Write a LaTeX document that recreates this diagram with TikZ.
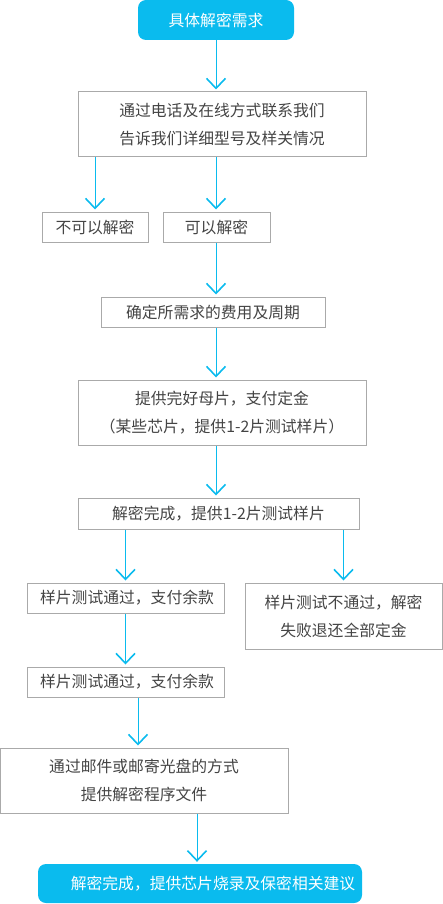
\documentclass[tikz,border=0pt]{standalone}
\usepackage{fontspec}
\setmainfont{Noto Sans CJK SC}
\usetikzlibrary{arrows.meta}
\definecolor{cyanb}{HTML}{0ABBEE}
\definecolor{boxline}{HTML}{AAAAAA}
\definecolor{txt}{HTML}{444444}
\tikzset{
  x=1pt,y=-1pt,
  box/.style={draw=boxline,line width=1pt,text=txt,font=\fontsize{15.8}{28}\selectfont,align=center,inner sep=0pt},
  bluebox/.style={fill=cyanb,draw=none,rounded corners=8pt,text=white,font=\fontsize{15.8}{28}\selectfont,inner sep=0pt},
  arr/.style={draw=cyanb,line width=1pt,-{Straight Barb[length=10pt,width=19pt,line width=1.6pt]},shorten >=2pt}
}
\begin{document}
\begin{tikzpicture}
\useasboundingbox (0,0) rectangle (443,904);
\node[bluebox,minimum width=156,minimum height=40] (b1) at (216,20) {具体解密需求};
\node[box,minimum width=288,minimum height=65] (b2) at (222,124.5) {通过电话及在线方式联系我们\\告诉我们详细型号及样关情况};
\node[box,minimum width=106,minimum height=30] (b3a) at (95,227) {不可以解密};
\node[box,minimum width=107,minimum height=30] (b3b) at (216.5,227) {可以解密};
\node[box,minimum width=224,minimum height=30] (b4) at (213,312) {确定所需求的费用及周期};
\node[box,minimum width=288,minimum height=65] (b5) at (222,412.5) {提供完好母片，支付定金\\（某些芯片，提供1-2片测试样片）};
\node[box,minimum width=281,minimum height=31] (b6) at (218.5,513.5) {解密完成，提供1-2片测试样片};
\node[box,minimum width=197,minimum height=30] (b7a) at (125.5,598) {\hspace{3pt}样片测试通过，支付余款};
\node[box,minimum width=197,minimum height=66] (b7b) at (343.5,616) {样片测试不通过，解密\\失败退还全部定金};
\node[box,minimum width=197,minimum height=30] (b8) at (125.5,682) {\hspace{3pt}样片测试通过，支付余款};
\node[box,minimum width=288,minimum height=65] (b9) at (144,780.5) {通过邮件或邮寄光盘的方式\\提供解密程序文件};
\node[bluebox,minimum width=324,minimum height=39] (b10) at (200,883.5) {\hspace{26pt}解密完成，提供芯片烧录及保密相关建议};
\draw[arr] (b1.south) -- (b1.south |- b2.north);
\draw[arr] (b2.south -| b3a) -- (b3a.north);
\draw[arr] (b2.south -| b1.south) -- (b1.south |- b3b.north);
\draw[arr] (b1.south |- b3b.south) -- (b1.south |- b4.north);
\draw[arr] (b1.south |- b4.south) -- (b1.south |- b5.north);
\draw[arr] (b1.south |- b5.south) -- (b1.south |- b6.north);
\draw[arr] (b6.south -| b7a) -- (b7a.north);
\draw[arr] (b6.south -| b7b) -- (b7b.north);
\draw[arr] (b7a.south) -- (b8.north);
\draw[arr] ([xshift=12.5]b8.south) -- ([xshift=12.5]b8.south |- b9.north);
\draw[arr] ([xshift=53]b9.south) -- ([xshift=53]b9.south |- b10.north);
\end{tikzpicture}
\end{document}
